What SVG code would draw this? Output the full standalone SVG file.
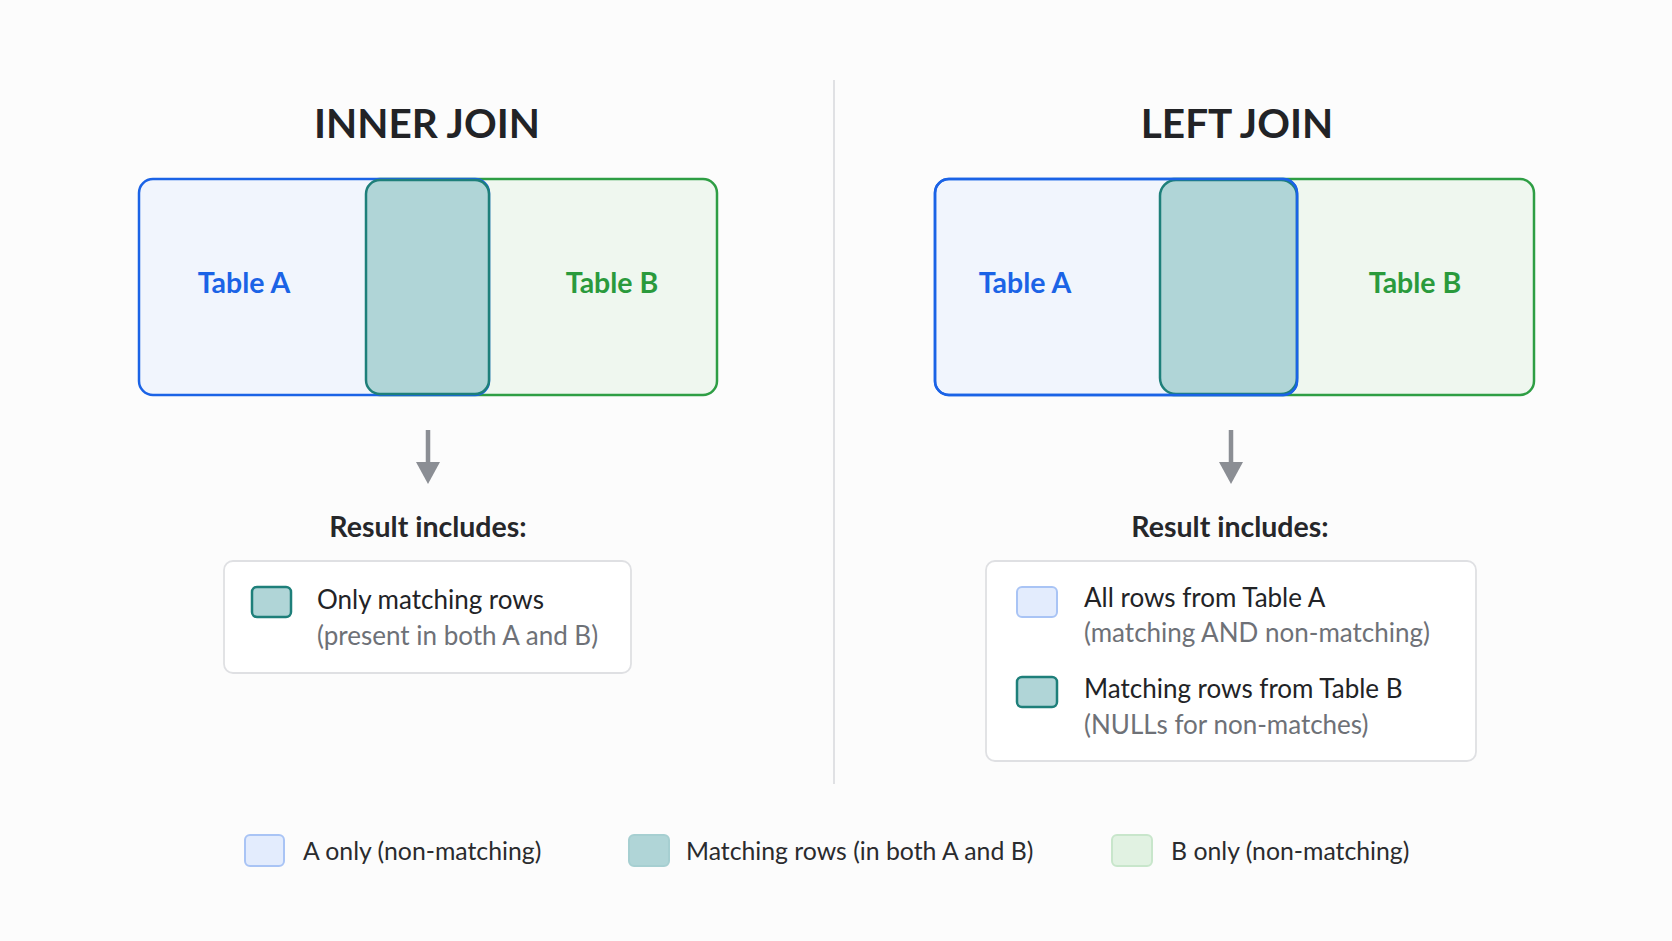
<svg xmlns="http://www.w3.org/2000/svg" width="1672" height="941" viewBox="0 0 1672 941">
<defs>
<style>
.title{font-family:Lato,"Liberation Sans",sans-serif;font-weight:700;font-size:40.5px;fill:#222326;text-anchor:middle}
.tA{font-family:Lato,"Liberation Sans",sans-serif;font-weight:700;font-size:28.5px;fill:#1b63e6;text-anchor:middle}
.tB{font-family:Lato,"Liberation Sans",sans-serif;font-weight:700;font-size:28.5px;fill:#2a9a3c;text-anchor:middle}
.res{font-family:Lato,"Liberation Sans",sans-serif;font-weight:700;font-size:28.5px;fill:#26272a;text-anchor:middle}
.main{font-family:Lato,"Liberation Sans",sans-serif;font-size:26px;fill:#222326}
.sub{font-family:Lato,"Liberation Sans",sans-serif;font-size:26px;fill:#6e7177}
.leg{font-family:Lato,"Liberation Sans",sans-serif;font-size:24.8px;fill:#2a2b2e}
.boxA{fill:#f1f5fd;stroke:#1b63e6;stroke-width:2.5}
.boxB{fill:#eff7ef;stroke:#2e9e44;stroke-width:2.5}
.mid{fill:#b0d5d7;stroke:#1e7f7a;stroke-width:2.5}
.outA{fill:none;stroke:#1b63e6;stroke-width:2.5}
.card{fill:#ffffff;stroke:#dfe0e3;stroke-width:1.8}
.swA{fill:#e3ecfd;stroke:#a9c4f5;stroke-width:2}
.swM{fill:#b0d5d7;stroke:#1e7f7a;stroke-width:2.5}
.swMl{fill:#b0d5d7;stroke:#a6cfd1;stroke-width:2}
.swB{fill:#e1f2e2;stroke:#c8e6cb;stroke-width:2}
.arrow{stroke:#8b8e94;stroke-width:4.5;fill:none}
.head{fill:#8b8e94}
</style>
</defs>
<rect width="1672" height="941" fill="#fcfcfc"/>
<line x1="834" y1="80" x2="834" y2="784" stroke="#e0e1e4" stroke-width="2"/>

<g id="inner-join">
<text class="title" x="427" y="138">INNER JOIN</text>
<g id="inner-tableB"><rect class="boxB" x="366" y="179" width="351" height="216" rx="14"/><text class="tB" x="612" y="293">Table B</text></g>
<g id="inner-tableA"><rect class="boxA" x="139" y="179" width="350" height="216" rx="14"/><text class="tA" x="244" y="293">Table A</text></g>
<g id="inner-match"><rect class="mid" x="366" y="180" width="123" height="214" rx="14"/></g>
<g id="inner-result">
<text class="res" x="428" y="537">Result includes:</text>
<rect class="card" x="224" y="561" width="407" height="112" rx="9"/>
<rect class="swM" x="252" y="587" width="39" height="30" rx="5"/>
<text class="main" x="317" y="609">Only matching rows</text>
<text class="sub" x="317" y="645">(present in both A and B)</text>
</g>
</g>

<g id="left-join">
<text class="title" x="1237" y="138">LEFT JOIN</text>
<g id="left-tableB"><rect class="boxB" x="1160" y="179" width="374" height="216" rx="14"/><text class="tB" x="1415" y="293">Table B</text></g>
<g id="left-tableA"><rect class="boxA" x="935" y="179" width="362" height="216" rx="14"/><text class="tA" x="1025" y="293">Table A</text></g>
<g id="left-match"><rect class="mid" x="1160" y="180" width="137" height="214" rx="16"/><rect class="outA" x="935" y="179" width="362" height="216" rx="14"/></g>
<g id="left-result">
<text class="res" x="1230" y="537">Result includes:</text>
<rect class="card" x="986" y="561" width="490" height="200" rx="9"/>
<rect class="swA" x="1017" y="587" width="40" height="30" rx="5"/>
<text class="main" x="1084" y="607">All rows from Table A</text>
<text class="sub" x="1084" y="642">(matching AND non-matching)</text>
<rect class="swM" x="1017" y="677" width="40" height="30" rx="5"/>
<text class="main" x="1084" y="698">Matching rows from Table B</text>
<text class="sub" x="1084" y="734">(NULLs for non-matches)</text>
</g>
</g>

<g id="connectors">
<line class="arrow" x1="428" y1="430" x2="428" y2="466"/>
<path class="head" d="M416,462 L440,462 L428,484 Z"/>
<line class="arrow" x1="1231" y1="430" x2="1231" y2="466"/>
<path class="head" d="M1219,462 L1243,462 L1231,484 Z"/>
</g>

<g id="legend">
<rect class="swA" x="245" y="835" width="39" height="31" rx="5"/>
<text class="leg" x="303" y="860">A only (non-matching)</text>
<rect class="swMl" x="629" y="835" width="40" height="31" rx="5"/>
<text class="leg" x="686" y="860">Matching rows (in both A and B)</text>
<rect class="swB" x="1112" y="835" width="40" height="31" rx="5"/>
<text class="leg" x="1171" y="860">B only (non-matching)</text>
</g>
</svg>
